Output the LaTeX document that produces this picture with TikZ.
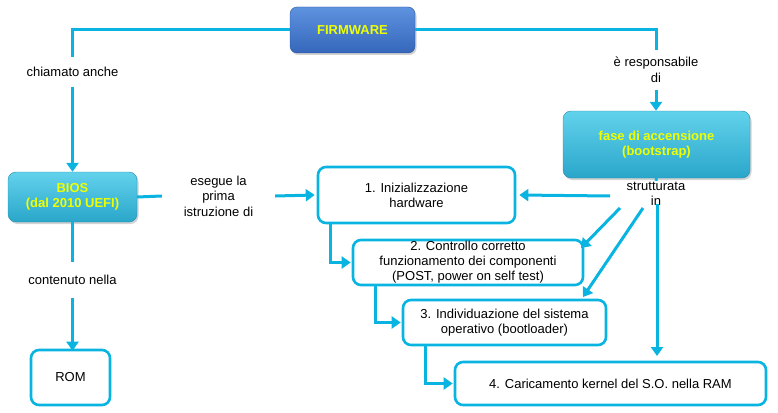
\documentclass[tikz,border=0pt]{standalone}
\usepackage{fontspec}
\setmainfont{Liberation Sans}
\usetikzlibrary{arrows.meta,shadows,calc}
\definecolor{cyanline}{HTML}{0AB4E0}
\definecolor{fwtop}{HTML}{5E93E0}
\definecolor{fwbot}{HTML}{3566BA}
\definecolor{cytop}{HTML}{62D2EC}
\definecolor{cybot}{HTML}{2AA6CA}
\definecolor{txtyellow}{HTML}{EEFF00}
\tikzset{
  bluebox/.style={rectangle, rounded corners=7pt, top color=fwtop, bottom color=fwbot, draw=fwbot!80!black, line width=0.4pt,
    drop shadow={shadow xshift=1.5pt, shadow yshift=-2pt, opacity=0.35}, font=\bfseries\fontsize{13}{15}\selectfont, text=txtyellow, align=center},
  cyanbox/.style={rectangle, rounded corners=8pt, top color=cytop, bottom color=cybot, draw=cybot!85!black, line width=0.4pt,
    drop shadow={shadow xshift=1.5pt, shadow yshift=-2pt, opacity=0.35}, font=\bfseries\fontsize{13}{15.5}\selectfont, text=txtyellow, align=center},
  stepbox/.style={rectangle, rounded corners=8pt, draw=cyanline, line width=2.6pt, fill=white, font=\fontsize{13}{15}\selectfont, align=center, inner sep=0pt},
  lbl/.style={fill=white, font=\fontsize{13}{15.5}\selectfont, align=center, inner sep=0pt},
  conn/.style={draw=cyanline, line width=3pt},
  arr/.style={conn, -{Triangle[length=9pt,width=12pt]}, shorten >=0pt},
}
\begin{document}
\begin{tikzpicture}[x=1pt,y=-1pt]
\useasboundingbox (0,0) rectangle (778,412);
% boxes
\node[bluebox, minimum width=125pt, minimum height=46pt] (fw) at (352.5,30) {FIRMWARE};
\node[cyanbox, minimum width=187pt, minimum height=67pt] (boot) at (656.5,144.5) {fase di accensione\\(bootstrap)};
\node[cyanbox, minimum width=129pt, minimum height=50pt] (bios) at (72.5,197) {BIOS\\(dal 2010 UEFI)};
\node[stepbox, minimum width=197pt, minimum height=56pt] (b1) at (416.5,195) {1. Inizializzazione\\hardware};
\node[stepbox, minimum width=230pt, minimum height=45pt] (b2) at (468,262.5) {2. Controllo corretto\\funzionamento dei componenti\\(POST, power on self test)};
\node[stepbox, minimum width=203pt, minimum height=45pt] (b3) at (504.5,322.5) {3. Individuazione del sistema\\operativo (bootloader)};
\node[stepbox, minimum width=311pt, minimum height=43pt] (b4) at (610.5,383.5) {4. Caricamento kernel del S.O. nella RAM};
\node[stepbox, minimum width=79pt, minimum height=55pt] (rom) at (70.5,377.5) {ROM};
% labels
\node[lbl, minimum width=100pt, minimum height=30pt] (lchi) at (72.5,72) {chiamato anche};
\node[lbl, minimum width=110pt, minimum height=40pt] (lresp) at (656,70) {è responsabile\\di};
\node[lbl, minimum width=113pt, minimum height=40pt] (lese) at (218.5,196) {esegue la\\prima\\istruzione di};
\node[lbl, minimum width=100pt, minimum height=36pt] (lcont) at (72.5,280) {contenuto nella};
\node[lbl, minimum height=26pt] (lstr) at (656,194) {strutturata\\in};
\coordinate (s0) at (610,196);
\coordinate (s1) at (620,208);
\coordinate (s2) at (643,208);
\coordinate (s3) at (657,204);
\coordinate (e1) at (581,248);
\coordinate (e2) at (583,297);
\coordinate (e3) at (657,356);
% connectors
\draw[conn] (fw.west) -| (lchi.north);
\draw[arr] (lchi.south) -- (bios.north);
\draw[conn] (fw.east) -| (lresp.north);
\draw[arr] (lresp.south) -- (lresp.south |- boot.north);
\draw[conn] (bios.east) -- (lese.west);
\draw[arr] (lese.east) -- ([xshift=-2pt]b1.west);
\draw[conn] (bios.south) -- (lcont.north);
\draw[arr] (lcont.south) -- ([yshift=-2pt]lcont.south |- rom.north);
\draw[conn] (boot.south) -- (lstr.north);
\draw[arr] (s0) -- ([xshift=3pt]b1.east);
\draw[arr] (s1) -- (e1);
\draw[arr] (s2) -- (e2);
\draw[arr] (s3) -- (e3);
\draw[arr] ($(b1.south west)+(14,0)$) |- ([xshift=-1pt]b2.west);
\draw[arr] ($(b2.south west)+(24,0)$) |- ([xshift=-1pt]b3.west);
\draw[arr] ($(b3.south west)+(24,0)$) |- ([xshift=-1pt]b4.west);
\end{tikzpicture}
\end{document}
